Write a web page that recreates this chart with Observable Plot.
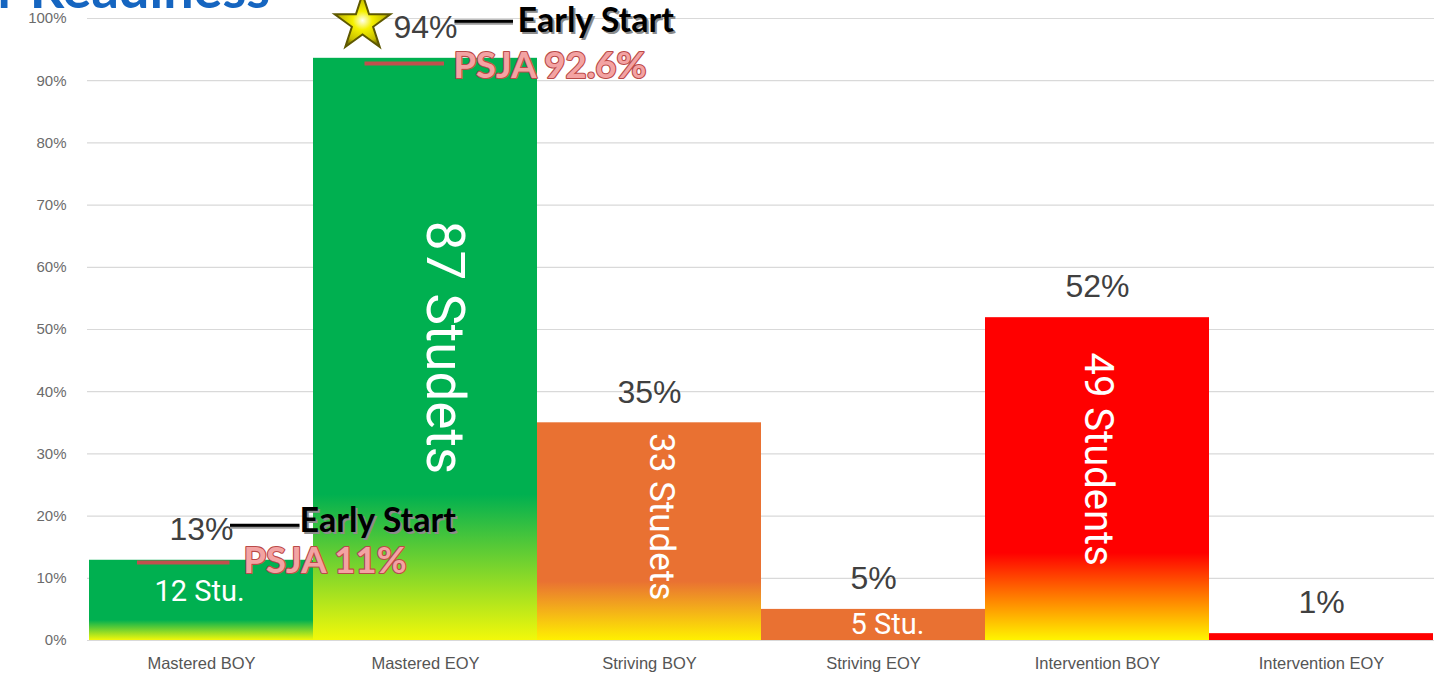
<!DOCTYPE html>
<html>
<head>
<meta charset="utf-8">
<script src="https://cdn.jsdelivr.net/npm/d3@7"></script>
<script src="https://cdn.jsdelivr.net/npm/@observablehq/plot@0.6"></script>
<style>
  html, body { margin: 0; padding: 0; background: #ffffff; overflow: hidden; }
  #chart svg { display: block; }
</style>
</head>
<body>
<div id="chart"></div>
<script>
// ---------------- data ----------------
const categories = ["Mastered BOY", "Mastered EOY", "Striving BOY", "Striving EOY", "Intervention BOY", "Intervention EOY"];
const values = [12.9, 93.6, 35.0, 5.0, 51.9, 1.1];
const percentLabels = ["13%", "94%", "35%", "5%", "52%", "1%"];
const innerLabels = ["12 Stu.", "87 Studets", "33 Studets", "5 Stu.", "49 Students", ""];
const yTicks = [0, 10, 20, 30, 40, 50, 60, 70, 80, 90, 100];
const earlyStartCategories = ["Mastered BOY", "Mastered EOY"];
const earlyStartText = "Early Start";
const psjaCategories = ["Mastered BOY", "Mastered EOY"];
const psjaValues = [11, 92.6];
const psjaLabels = ["PSJA 11%", "PSJA 92.6%"];
const titleText = "r Readiness";

// ---------------- tables built from the arrays ----------------
const bars = categories.map((c, i) => ({cat: c, value: values[i], pct: percentLabels[i], inner: innerLabels[i]}));
const valueOf = Object.fromEntries(categories.map((c, i) => [c, values[i]]));
const early = earlyStartCategories.map(c => ({cat: c, value: valueOf[c], text: earlyStartText}));
const psja = psjaCategories.map((c, i) => ({cat: c, value: psjaValues[i], text: psjaLabels[i]}));

// ---------------- styles (kept out of data) ----------------
const barFill = {
  "Mastered BOY": "url(#gGreen)",
  "Mastered EOY": "url(#gGreen)",
  "Striving BOY": "url(#gOrange)",
  "Striving EOY": "#E97132",
  "Intervention BOY": "url(#gRed)",
  "Intervention EOY": "#FF0000"
};
// inner label placement relative to bar middle
const innerStyle = {
  "Mastered BOY":     {dx: -2, dy: -9,  size: 29, rotate: 0},
  "Mastered EOY":     {dx: 18, dy: -2,  size: 53, rotate: 90},
  "Striving BOY":     {dx: 12, dy: -15, size: 35, rotate: 90},
  "Striving EOY":     {dx: 14, dy: 0,   size: 29, rotate: 0},
  "Intervention BOY": {dx: 0,  dy: -20, size: 40, rotate: 90}
};
const earlyStyle = {
  "Mastered BOY": {insetLeft: 141, insetRight: 13.5, lineDy: -35, textDx: 98, textDy: -39},
  "Mastered EOY": {insetLeft: 141.5, insetRight: 24, lineDy: -37, textDx: 92, textDy: -37}
};
const psjaStyle = {
  "Mastered BOY": {insetLeft: 48, insetRight: 83.5, lineDy: -9.5, textDx: 42, textDy: -10.5},
  "Mastered EOY": {insetLeft: 51.5, insetRight: 93, lineDy: -1, textDx: 28, textDy: 2}
};

const marks = [
  Plot.gridY(yTicks, {stroke: "#d9d9d9", strokeOpacity: 1, strokeWidth: 1.2}),
  Plot.axisY({ticks: yTicks, tickSize: 0, tickPadding: 21, tickFormat: d => d + "%", fontSize: 15, fill: "#6b6b6b", label: null}),
  Plot.axisX({tickSize: 0, tickPadding: 17, fontSize: 16.5, fill: "#555555", label: null}),
  Plot.barY(bars, {x: "cat", y: "value", fill: d => barFill[d.cat]}),
  Plot.text(bars, {x: "cat", y: "value", text: "pct", dy: -30.5, fontSize: 32, fill: "#404040", lineAnchor: "middle"})
];

// inner white labels
for (const d of bars) {
  const s = innerStyle[d.cat];
  if (!s || !d.inner) continue;
  marks.push(Plot.text([d], {
    x: "cat", y: e => e.value / 2, text: "inner",
    dx: s.dx, dy: s.dy, rotate: s.rotate, fontSize: s.size,
    fill: "white", fontFamily: "Roboto, 'Liberation Sans', sans-serif", lineAnchor: "middle"
  }));
}

// PSJA reference lines and labels
for (const d of psja) {
  const s = psjaStyle[d.cat];
  marks.push(Plot.tickY([d], {x: "cat", y: "value", dy: s.lineDy, insetLeft: s.insetLeft, insetRight: s.insetRight, stroke: "#C0504D", strokeWidth: 4}));
  marks.push(Plot.text([d], {
    x: "cat", y: "value", text: "text", dx: s.textDx, dy: s.textDy, textAnchor: "start", lineAnchor: "middle",
    fontSize: 36.5, fontWeight: "bold", fontFamily: "Lato, 'Open Sans', sans-serif",
    fill: "#F3A3A3", stroke: "#B94A48", strokeWidth: 2.2
  }));
}

// Early Start connectors and labels
for (const d of early) {
  const s = earlyStyle[d.cat];
  marks.push(Plot.tickY([d], {x: "cat", y: "value", dy: s.lineDy + 2, insetLeft: s.insetLeft, insetRight: s.insetRight, stroke: "#9a9a9a", strokeWidth: 3}));
  marks.push(Plot.tickY([d], {x: "cat", y: "value", dy: s.lineDy, insetLeft: s.insetLeft, insetRight: s.insetRight, stroke: "#000", strokeWidth: 3}));
  marks.push(Plot.text([d], {
    x: "cat", y: "value", text: "text", dx: s.textDx + 2, dy: s.textDy + 2, textAnchor: "start", lineAnchor: "middle",
    fontSize: 34, fontWeight: "bold", fontFamily: "Lato, 'Open Sans', sans-serif", fill: "#8c8c8c"
  }));
  marks.push(Plot.text([d], {
    x: "cat", y: "value", text: "text", dx: s.textDx, dy: s.textDy, textAnchor: "start", lineAnchor: "middle",
    fontSize: 34, fontWeight: "bold", fontFamily: "Lato, 'Open Sans', sans-serif", fill: "#000"
  }));
}

// star next to the top Early Start label
marks.push(Plot.dot(early.filter(d => d.cat === "Mastered EOY"), {
  x: "cat", y: "value", dx: -63, dy: -35, symbol: "star", r: 17.5,
  fill: "url(#gStar)", stroke: "#5e5800", strokeWidth: 2
}));

// cut-off slide title at top
marks.push(Plot.text([titleText], {
  frameAnchor: "top-left", text: d => d, dx: -90, dy: -11, textAnchor: "start", lineAnchor: "bottom",
  fontSize: 54, fontWeight: "bold", fontFamily: "Lato, 'Open Sans', sans-serif", fill: "#1565C0"
}));

const chart = Plot.plot({
  width: 1437,
  height: 687,
  marginTop: 18,
  marginBottom: 47,
  marginLeft: 87,
  marginRight: 3,
  style: {background: "white", fontFamily: "'Liberation Sans', Arial, sans-serif", overflow: "hidden"},
  x: {domain: categories, padding: 0, label: null},
  y: {domain: [0, 100], label: null},
  color: {type: "identity"},
  marks
});

// gradient definitions
const ns = "http://www.w3.org/2000/svg";
const defs = document.createElementNS(ns, "defs");
function linGrad(id, color, start, bottom) {
  const g = document.createElementNS(ns, "linearGradient");
  g.setAttribute("id", id);
  g.setAttribute("x1", "0"); g.setAttribute("y1", "0");
  g.setAttribute("x2", "0"); g.setAttribute("y2", "1");
  [[0, color], [start, color], [1, bottom]].forEach(([o, c]) => {
    const s = document.createElementNS(ns, "stop");
    s.setAttribute("offset", o);
    s.setAttribute("stop-color", c);
    g.appendChild(s);
  });
  defs.appendChild(g);
}
linGrad("gGreen", "#00B050", 0.75, "#F2F80A");
linGrad("gOrange", "#E97132", 0.73, "#FFF000");
linGrad("gRed", "#FF0000", 0.73, "#FFF500");
const rg = document.createElementNS(ns, "radialGradient");
rg.setAttribute("id", "gStar");
[[0, "#FFFFF0"], [0.35, "#F5F000"], [0.8, "#C8C000"], [1, "#7a7200"]].forEach(([o, c]) => {
  const s = document.createElementNS(ns, "stop");
  s.setAttribute("offset", o);
  s.setAttribute("stop-color", c);
  rg.appendChild(s);
});
defs.appendChild(rg);
chart.insertBefore(defs, chart.firstChild);

document.getElementById("chart").appendChild(chart);
</script>
</body>
</html>
